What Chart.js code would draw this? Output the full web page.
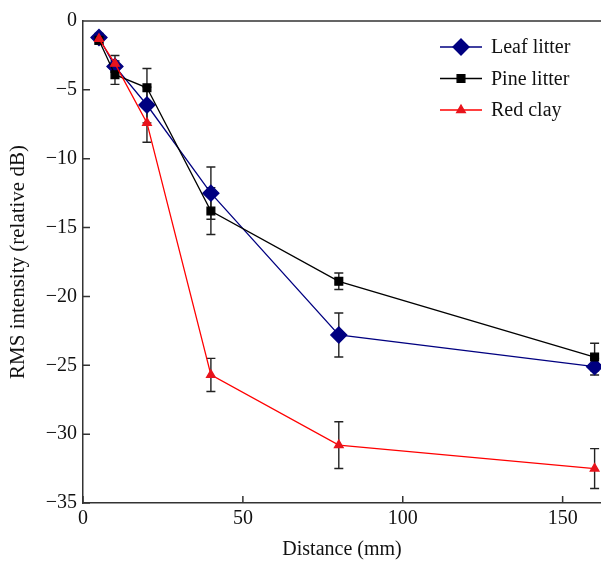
<!DOCTYPE html>
<html>
<head>
<meta charset="utf-8">
<script src="https://cdn.jsdelivr.net/npm/chart.js@4/dist/chart.umd.min.js"></script>
<style>
  html, body { margin: 0; padding: 0; background: #fff; overflow: hidden; }
  #wrap { width: 601px; height: 562px; position: relative; }
  #grafico { display: block; }
</style>
</head>
<body>
<div id="wrap"><canvas id="grafico"></canvas></div>
<script>
// Datos
const distancias = [5, 10, 20, 40, 80, 160];
const xTicks = [0, 50, 100, 150];
const yTicks = [0, -5, -10, -15, -20, -25, -30, -35];

const leafLitter = [-1.2, -3.3, -6.1, -12.5, -22.8, -25.1];
const leafErr = [0.3, 0.4, 1.3, 1.9, 1.6, 0.6];

const pineLitter = [-1.4, -3.9, -4.85, -13.8, -18.9, -24.4];
const pineErr = [0.3, 0.7, 1.4, 1.7, 0.6, 1.0];

const redClay = [-1.3, -3.1, -7.4, -25.7, -30.8, -32.5];
const redErr = [0.3, 0.6, 1.4, 1.2, 1.7, 1.45];

const FUENTE = '"Liberation Serif", "DejaVu Serif", serif';
const minus = v => (v < 0 ? '\u2212' + Math.abs(v) : String(v));

function puntos(ys) {
  return distancias.map((x, i) => ({ x: x, y: ys[i] }));
}

// 👉 Barras de error (debajo de los marcadores)
const errorBars = {
  id: 'errorBars',
  beforeDatasetsDraw(chart) {
    const { ctx, scales: { x, y } } = chart;
    ctx.save();
    ctx.strokeStyle = '#222';
    ctx.lineWidth = 1.4;
    chart.data.datasets.forEach(ds => {
      ds.data.forEach((p, i) => {
        const e = ds.errores[i];
        const px = x.getPixelForValue(p.x);
        const y1 = y.getPixelForValue(p.y + e);
        const y2 = y.getPixelForValue(p.y - e);
        ctx.beginPath();
        ctx.moveTo(px, y1); ctx.lineTo(px, y2);
        ctx.moveTo(px - 4.5, y1); ctx.lineTo(px + 4.5, y1);
        ctx.moveTo(px - 4.5, y2); ctx.lineTo(px + 4.5, y2);
        ctx.stroke();
      });
    });
    ctx.restore();
  }
};

// 👉 Marco superior, ticks hacia adentro y leyenda
const marco = {
  id: 'marco',
  afterDraw(chart) {
    const { ctx, chartArea: a, scales: { x, y } } = chart;
    ctx.save();
    ctx.strokeStyle = '#333';
    ctx.lineWidth = 1.5;
    ctx.beginPath();
    ctx.moveTo(a.left, a.top); ctx.lineTo(a.right, a.top);
    xTicks.forEach(v => {
      const px = x.getPixelForValue(v);
      ctx.moveTo(px, a.bottom); ctx.lineTo(px, a.bottom - 7);
    });
    yTicks.forEach(v => {
      const py = y.getPixelForValue(v);
      ctx.moveTo(a.left, py); ctx.lineTo(a.left + 7, py);
    });
    ctx.stroke();

    // leyenda
    const orden = [0, 1, 2];
    ctx.font = '20px ' + FUENTE;
    ctx.textBaseline = 'middle';
    ctx.textAlign = 'left';
    orden.forEach((idx, k) => {
      const ds = chart.data.datasets[idx];
      const ly = 47 + k * 31.5;
      ctx.strokeStyle = ds.borderColor;
      ctx.lineWidth = 1.3;
      ctx.beginPath();
      ctx.moveTo(440, ly); ctx.lineTo(482, ly);
      ctx.stroke();
      ctx.fillStyle = ds.pointBackgroundColor;
      ctx.strokeStyle = ds.pointBorderColor;
      Chart.helpers.drawPoint(ctx, {
        pointStyle: ds.pointStyle,
        radius: ds.legendRadius,
        rotation: 0,
        borderWidth: 1
      }, 461, ly);
      ctx.fillStyle = '#111';
      ctx.fillText(ds.label, 491, ly + 1);
    });
    ctx.restore();
  }
};

new Chart(document.getElementById('grafico'), {
  type: 'line',
  data: {
    datasets: [
      {
        label: 'Leaf litter',
        data: puntos(leafLitter),
        errores: leafErr,
        borderColor: '#000080',
        pointBackgroundColor: '#000080',
        pointBorderColor: '#000080',
        pointStyle: 'rectRot',
        pointRadius: 8,
        legendRadius: 8,
        borderWidth: 1.3,
        order: 2
      },
      {
        label: 'Pine litter',
        data: puntos(pineLitter),
        errores: pineErr,
        borderColor: '#000000',
        pointBackgroundColor: '#000000',
        pointBorderColor: '#000000',
        pointStyle: 'rect',
        pointRadius: 5.5,
        legendRadius: 5.5,
        borderWidth: 1.3,
        order: 1
      },
      {
        label: 'Red clay',
        data: puntos(redClay),
        errores: redErr,
        borderColor: '#ff0000',
        pointBackgroundColor: '#e8141c',
        pointBorderColor: '#e8141c',
        pointStyle: 'triangle',
        pointRadius: 5,
        legendRadius: 5,
        borderWidth: 1.3,
        order: 0
      }
    ]
  },
  options: {
    responsive: true,
    maintainAspectRatio: false,
    animation: false,
    clip: false,
    layout: { autoPadding: false, padding: { top: 21, right: 0, left: 0, bottom: 0 } },
    plugins: {
      legend: { display: false },
      tooltip: { enabled: false }
    },
    scales: {
      x: {
        type: 'linear',
        min: 0,
        max: 162,
        afterBuildTicks: s => { s.ticks = xTicks.map(v => ({ value: v })); },
        afterFit: s => { s.height = 59; s.paddingRight = 0; },
        grid: { display: false, drawTicks: false },
        border: { display: true, color: '#333', width: 1.5 },
        ticks: {
          padding: 4,
          color: '#111',
          font: { family: FUENTE, size: 20 }
        },
        title: {
          display: true,
          text: 'Distance (mm)',
          color: '#111',
          padding: { top: 4, bottom: 0 },
          font: { family: FUENTE, size: 20 }
        }
      },
      y: {
        type: 'linear',
        min: -35,
        max: 0,
        afterBuildTicks: s => { s.ticks = yTicks.map(v => ({ value: v })); },
        afterFit: s => { s.width = 83; },
        grid: { display: false, drawTicks: false },
        border: { display: true, color: '#333', width: 1.5 },
        ticks: {
          padding: 6,
          color: '#111',
          callback: v => minus(v),
          font: { family: FUENTE, size: 20 }
        },
        title: {
          display: true,
          text: 'RMS intensity (relative dB)',
          color: '#111',
          padding: { top: 6, bottom: 0 },
          font: { family: FUENTE, size: 21 }
        }
      }
    }
  },
  plugins: [errorBars, marco]
});
</script>
</body>
</html>
